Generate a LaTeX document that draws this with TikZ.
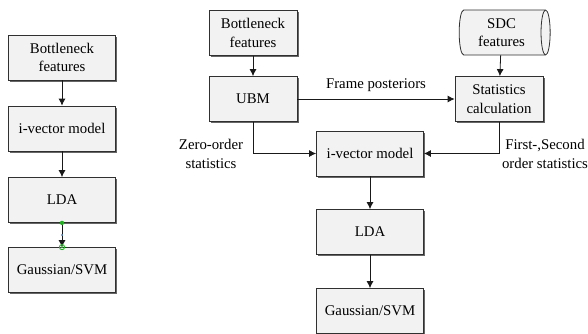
\documentclass[tikz,border=0pt]{standalone}
\usepackage{fontspec}
\setmainfont{Liberation Serif}
\usetikzlibrary{shapes.geometric,shadows,arrows.meta}
\definecolor{boxfill}{HTML}{F2F2F2}
\definecolor{boxline}{HTML}{303030}
\definecolor{selgreen}{HTML}{22B022}
\definecolor{selblue}{HTML}{5B8DD6}
\tikzset{
  blockbox/.style={draw=boxline,fill=boxfill,align=center,inner sep=1pt,line width=0.8pt,
    minimum width=88pt,minimum height=45pt,
    general shadow={fill=black!60,shadow xshift=1.5pt,shadow yshift=-1.5pt}},
  widebox/.style={blockbox,minimum width=107pt},
  flow/.style={draw=black!90,line width=0.8pt,-{Latex[length=7pt,width=7pt]}},
  lbl/.style={align=center}
}
\begin{document}
\begin{tikzpicture}[x=1pt,y=-1pt,font=\rmfamily\fontsize{14.8}{18.5}\selectfont]
  \useasboundingbox (0,0) rectangle (588,333);
  % Left-hand side part of the Figure
  \node[widebox] (lbn)  at (62,57.5)  {Bottleneck\\features};
  \node[widebox] (liv)  at (62,128.5) {i-vector model};
  \node[widebox] (llda) at (62,200)   {LDA};
  \node[widebox] (lgs)  at (62,270)   {Gaussian/SVM};
  \draw[flow] (lbn) -- (liv);
  \draw[flow] (liv) -- (llda);
  \draw[flow] (llda) -- (lgs);
  % selection handles on the last connector
  \fill[selgreen] (llda.south) circle (2.2);
  \fill[selblue] (62,235) circle (1.1);
  \draw[selgreen,line width=0.9pt] (lgs.north) circle (2.6);
  \fill[selgreen] (lgs.north) circle (1);
  % Right-hand side part of the Figure
  \node[blockbox] (bn)   at (253,33)    {Bottleneck\\features};
  \node[blockbox] (ubm)  at (253,99)    {UBM};
  \node[draw=boxline,fill=boxfill,line width=0.8pt,cylinder,aspect=0.3,align=center,inner sep=1pt,
        minimum width=45pt,minimum height=91pt] (sdc) at (501.5,32.5) {SDC\\features};
  \node[blockbox] (stat) at (499,99)    {Statistics\\calculation};
  \node[widebox]  (iv)   at (370,153.5) {i-vector model};
  \node[widebox]  (lda)  at (370,232)   {LDA};
  \node[widebox]  (gs)   at (370,311)   {Gaussian/SVM};
  \draw[flow] (bn) -- (ubm);
  \draw[flow] (sdc) -- (stat);
  \draw[flow] (ubm) -- (stat) node[midway,above=4pt] {Frame posteriors};
  \draw[flow] (ubm.south) |- (iv.west);
  \draw[flow] (stat.south) |- (iv.east);
  \draw[flow] (iv) -- (lda);
  \draw[flow] (lda) -- (gs);
  \node[lbl] (zero)  at (211,154) {Zero-order\\statistics};
  \node[lbl] (first) at (545,154) {First-,Second\\order statistics};
\end{tikzpicture}
\end{document}
